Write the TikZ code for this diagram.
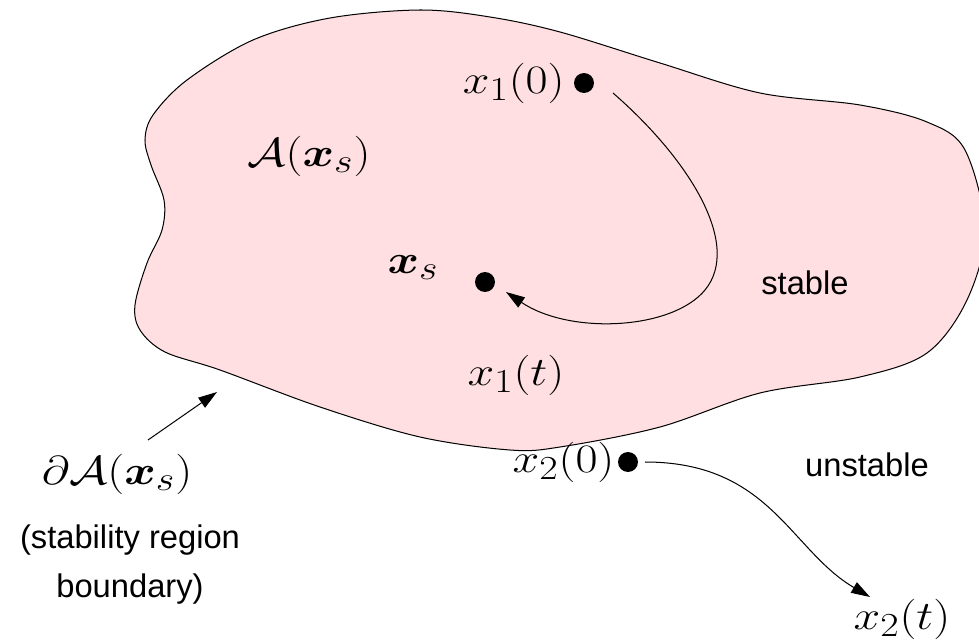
\documentclass[tikz,border=0pt]{standalone}
\usepackage{bm}
\usepackage{fontspec}
\setsansfont{Liberation Sans}
\usetikzlibrary{arrows.meta,positioning}
\definecolor{regionfill}{RGB}{255,223,225}
\begin{document}
\begin{tikzpicture}[x=0.691pt, y=-0.691pt, >={Triangle[length=13pt,width=8.3pt]},
  dot/.style={circle, fill=black, inner sep=0pt, minimum size=13.8pt},
  mlbl/.style={font=\Huge, inner sep=0pt, xscale=1.33, yscale=1.12, transform shape},
  slbl/.style={font=\fontsize{22.6}{33.9}\sffamily\selectfont, align=center, inner sep=0pt},
  traj/.style={->, line width=0.7pt}]
\clip (0,0) rectangle (979,642);
% stability region
\draw[fill=regionfill, line width=0.7pt] plot[smooth cycle, tension=0.55] coordinates {
  (420,10) (490,17) (560,32) (660,63) (760,93) (860,105) (927,122) (965,150)
  (985,230) (967,300) (927,353) (860,377) (760,393) (660,427) (560,447) (510,450)
  (420,437) (320,407) (220,370) (165,352) (140,330) (135,305) (147,263) (162,230)
  (164,200) (151,165) (145,140) (153,115) (187,80) (253,40) (330,18)};
\node[dot] (x10dot) at (584,83) {};
\node[mlbl, left=6pt of x10dot] (x10) {$x_1(0)$};
\node[dot] (xsdot) at (485,282) {};
\node[mlbl] (xs) at (413,268) {$\bm{x}_s$};
\node[mlbl] (Axs) at (309,156) {$\mathcal{A}(\bm{x}_s)$};
\node[mlbl] (x1t) at (516,375) {$x_1(t)$};
\node[slbl] (stable) at (805,283) {stable};
\node[mlbl] (dA) at (117,474) {$\partial\mathcal{A}(\bm{x}_s)$};
\node[slbl] (note) at (130,565) {(stability region\\boundary)};
\node[dot] (x20dot) at (628,462) {};
\node[mlbl, left=2pt of x20dot] (x20) {$x_2(0)$};
\node[slbl] (unstable) at (867,465) {unstable};
\node[mlbl] (x2t) at (902,619) {$x_2(t)$};
\coordinate (edge) at (217,392);
% trajectories
\draw[traj] (x10dot.center) ++(29,10) .. controls (690,160) and (742,245) .. (705,290)
  .. controls (672,330) and (570,335) .. ([shift={(21,10)}]xsdot.center);
\draw[traj] (x20dot.center) ++(17,0) .. controls (770,462) and (790,550) .. ([shift={(-32,-22)}]x2t.center);
\draw[traj] (dA.center) ++(31,-34) -- (edge);
\end{tikzpicture}
\end{document}
